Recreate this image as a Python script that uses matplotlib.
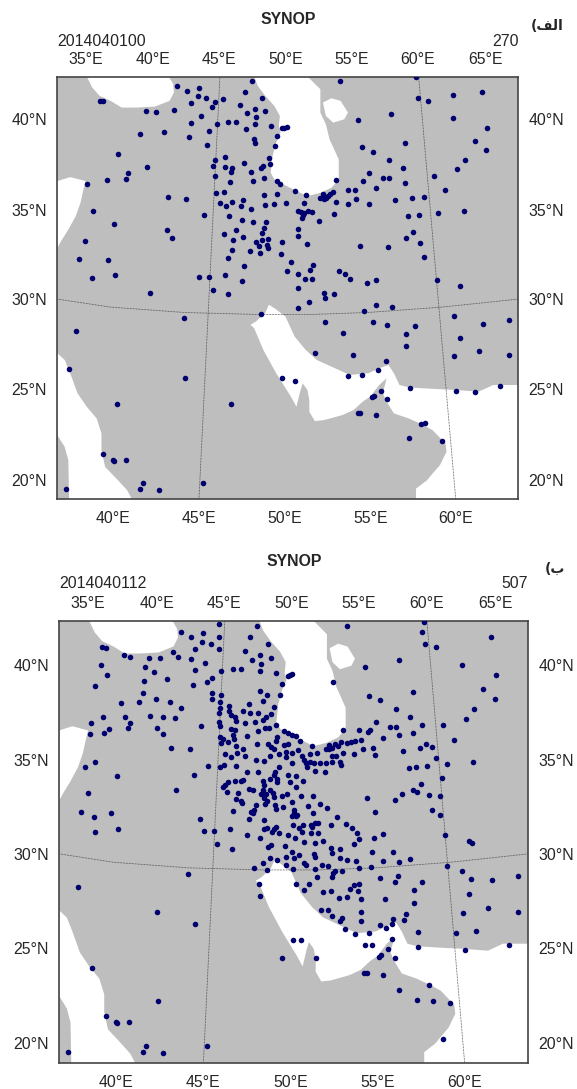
"""Two SYNOP station maps (2014040100 and 2014040112)."""
import matplotlib

matplotlib.use("Agg")
import matplotlib.pyplot as plt
import numpy as np
from matplotlib.patches import Polygon

plt.rcParams["font.family"] = ["Liberation Sans", "DejaVu Sans"]
plt.rcParams["font.size"] = 11.4

W, H = 577, 1089
LAND = "#bebebe"
DOT = "#00006e"
TEXT = "#262626"

# map units: both panels share the frame of the upper one
FRAME_A = (155, 1408, 232, 1497)
FRAME_B = (162, 1438, 1863, 3190)

# stations, upper and lower half of each panel
A_NORTH = [
    (684,244),(923,246),(1129,234),(480,260),(507,276),(540,265),(665,278),(1309,277),(1231,287),(537,291),
    (560,295),(605,300),(712,297),(583,309),(518,311),(1135,297),(1162,305),(270,304),(279,306),(652,316),
    (575,324),(473,332),(397,336),(424,337),(692,329),(720,335),(671,342),(1062,343),(545,351),(696,354),
    (1231,357),(972,361),(518,370),(589,373),(619,369),(641,368),(692,373),(735,380),(668,388),(765,386),
    (778,384),(772,385),(1322,385),(566,395),(444,397),(381,403),(752,411),(514,414),(690,420),(691,430),
    (1289,424),(563,436),(746,441),(1099,432),(983,444),(1012,457),(1321,453),(321,465),(610,473),(584,481),
    (730,477),(1057,483),(1264,482),(662,491),(578,499),(610,503),(733,495),(714,500),(708,505),(398,503),
    (630,507),(626,517),(1094,505),(1242,510),(681,518),(347,522),(1003,521),(584,530),(1180,529),(1039,535),
    (1056,535),(341,538),(290,541),(686,545),(718,537),(913,543),(985,544),(625,548),(752,545),(760,553),
    (236,554),(1101,551),(1020,566),(1210,571),(946,572),(964,571),(801,575),(586,582),(607,579),(717,588),
    (752,585),(831,588),(877,585),(905,577),(897,585),(890,590),(885,597),(868,597),(880,600),(455,593),
    (506,598),(967,599),(1073,602),(1118,595),(1151,594),(598,611),(614,620),(630,608),(653,618),(661,601),
    (719,615),(743,613),(776,610),(826,611),(913,608),(944,613),(1001,613),(681,629),(251,635),(1261,633),
    (553,646),(622,648),(810,634),(818,638),(826,640),(837,633),(848,636),(822,647),(819,655),(908,644),
    (1191,640),(1109,649),(1138,647),(656,661),(687,667),(722,666),(867,664),(309,673),(716,684),(641,690),
    (808,689),(453,692),(712,700),(1121,697),(609,703),(660,711),(809,709),(468,715),(1102,716),(633,721),
    (711,722),(728,717),(694,726),(231,724),(765,727),(833,733),(1142,729),(703,739),(729,745),(725,735),
    (978,739),(1053,742),(629,750),(680,755),(705,760),(762,762),(214,778),(294,781),(619,775),(1151,773),
    (789,786),(851,796),(663,799),
]
A_SOUTH = [
    (250,25),(311,17),(541,21),(568,23),(612,15),(657,33),(779,3),(808,12),(827,29),(848,28),
    (843,2),(922,3),(937,13),(950,29),(997,41),(1022,30),(1186,32),(1250,49),(808,54),(406,69),
    (578,60),(618,73),(881,69),(883,84),(907,73),(838,97),(1020,107),(1064,111),(808,116),(988,124),
    (710,134),(500,145),(1232,138),(883,156),(1013,156),(1051,166),(1313,164),(1382,151),(205,182),(931,190),
    (1126,168),(1103,191),(1249,203),(1103,229),(856,249),(960,255),(1234,258),(1302,242),(1382,255),(1048,274),
    (186,296),(1027,300),(946,317),(982,315),(503,323),(765,323),(800,334),(1113,355),(1034,362),(1240,362),
    (1291,367),(1357,348),(1016,377),(1009,382),(1051,387),(318,401),(627,401),(972,428),(978,428),(1022,435),
    (1143,463),(1155,460),(1112,505),(1201,514),(279,552),(306,569),(310,572),(342,570),(387,638),(551,638),
    (380,656),(180,655),(431,659),
]
B_NORTH = [
    (596,237),(700,243),(944,244),(1154,232),(493,260),(520,276),(553,265),(596,276),(681,277),(1148,260),
    (1337,277),(550,291),(574,296),(596,311),(531,312),(729,298),(1158,297),(1187,306),(278,305),(288,309),
    (667,319),(472,321),(485,335),(338,330),(355,337),(407,340),(435,340),(708,331),(737,338),(519,342),
    (686,345),(1085,346),(558,354),(712,357),(276,361),(394,367),(1257,361),(993,366),(531,374),(603,378),
    (634,373),(657,373),(707,377),(421,382),(752,385),(783,393),(790,390),(796,388),(1350,390),(293,391),
    (578,400),(565,412),(456,402),(392,409),(906,410),(769,417),(527,421),(258,423),(1316,431),(707,437),
    (577,443),(602,449),(390,443),(763,449),(1123,440),(727,450),(1004,452),(425,461),(578,461),(600,471),
    (378,470),(464,471),(330,474),(717,468),(1035,465),(1348,461),(677,478),(624,482),(598,490),(745,486),
    (493,489),(1079,493),(1291,491),(662,497),(597,505),(625,498),(681,505),(702,505),(1117,516),(630,510),
    (737,507),(725,515),(715,524),(281,515),(410,513),(445,515),(478,519),(342,515),(597,530),(641,517),
    (1269,521),(644,528),(695,530),(667,535),(1025,532),(355,534),(248,535),(1148,541),(598,542),(548,544),
    (1205,541),(722,550),(733,549),(751,540),(427,549),(350,550),(298,553),(283,565),(245,568),(1062,546),
    (1078,546),(703,557),(628,552),(640,555),(978,554),(1008,555),(1001,562),(935,555),(772,558),(783,563),
    (795,570),(445,566),(634,570),(1086,570),(1125,563),(672,574),(753,577),(805,572),(598,577),(608,582),
    (636,582),(1042,579),(984,585),(966,588),(955,590),(946,595),(1236,585),(752,587),(818,589),(928,590),
    (912,598),(895,600),(895,612),(905,610),(921,604),(850,603),(1161,596),(1142,610),(1175,607),(467,608),
    (518,613),(601,594),(620,592),(643,602),(701,597),(730,597),(738,605),(785,596),(773,600),(745,612),
    (663,612),(812,615),(987,613),(1015,610),(887,612),(1097,618),(964,628),(1022,629),(933,623),(613,627),
    (628,635),(645,625),(668,634),(735,632),(760,627),(778,622),(795,625),(779,637),(822,632),(845,628),
    (862,625),(905,632),(915,632),(1186,640),(1288,651),(567,663),(598,667),(610,661),(697,645),(719,648),
    (795,653),(827,645),(833,655),(845,650),(855,654),(870,655),(888,655),(903,652),(925,650),(928,660),
    (232,665),(258,652),(1216,657),(644,664),(760,665),(1113,668),(1133,667),(1163,664),(750,680),(673,680),
    (703,680),(835,665),(858,678),(886,682),(745,690),(785,690),(806,692),(529,691),(318,692),(1203,699),
    (755,702),(734,703),(716,708),(663,706),(640,707),(655,708),(612,720),(622,712),(607,727),(790,712),
    (826,708),(754,712),(1145,716),(718,720),(807,726),(678,731),(690,735),(717,735),(735,735),(617,740),
    (480,736),(1125,736),(1136,742),(239,745),(1095,748),(1167,750),(1197,753),(647,744),(711,747),(725,748),
    (743,745),(782,747),(768,753),(820,754),(851,754),(746,757),(720,760),(644,762),(655,768),(726,768),
    (660,775),(1000,760),(1076,764),(870,778),(795,772),(838,783),(889,788),(748,780),(770,785),(722,778),
    (697,780),(752,793),(634,798),(691,795),(684,800),(222,802),(303,805),(1175,795),(1021,801),(853,803),
    (800,795),(800,805),(810,810),(257,816),(678,823),(718,824),(918,815),(544,821),(1197,810),(689,805),
    (796,812),(806,812),
]
B_SOUTH = [
    (258,36),(321,28),(555,32),(583,34),(627,26),(673,45),(720,26),(727,24),(745,28),(752,20),
    (741,36),(759,40),(797,14),(826,16),(815,25),(821,36),(848,14),(858,8),(866,8),(850,20),
    (900,15),(943,12),(957,23),(971,40),(846,40),(866,40),(785,46),(803,55),(709,54),(977,58),
    (1018,54),(1044,41),(1212,44),(1277,62),(1284,70),(592,73),(632,87),(738,75),(731,80),(775,79),
    (827,66),(857,70),(880,63),(964,73),(902,84),(927,86),(1069,97),(1013,95),(795,97),(903,99),
    (780,110),(800,115),(815,105),(854,102),(857,110),(735,113),(755,120),(925,115),(945,120),(969,124),
    (1043,122),(1087,126),(1117,116),(716,128),(780,136),(827,130),(833,134),(878,136),(894,138),(693,145),
    (727,150),(798,148),(857,146),(913,153),(931,152),(978,145),(1010,140),(1217,137),(512,161),(1258,154),
    (908,160),(903,172),(862,172),(1035,173),(1083,168),(1074,185),(1283,177),(1340,181),(1411,169),(1150,186),
    (212,200),(704,193),(805,191),(841,192),(965,194),(978,192),(952,208),(827,210),(880,216),(901,212),
    (976,213),(1127,210),(1277,222),(708,229),(923,234),(944,232),(983,238),(1047,237),(1127,250),(1329,263),
    (875,271),(893,271),(982,276),(1411,277),(427,277),(1260,280),(1105,282),(905,289),(931,295),(926,303),
    (982,302),(1070,297),(1101,301),(1068,312),(1035,314),(1050,324),(532,311),(938,326),(1295,332),(1138,335),
    (1241,338),(966,341),(1004,339),(1067,356),(797,359),(819,359),(993,375),(1013,376),(1137,381),(1055,388),
    (1386,374),(1267,389),(1036,405),(1031,410),(1074,415),(767,414),(861,415),(252,444),(992,458),(1000,458),
    (1044,465),(1167,495),(1087,510),(431,544),(1135,539),(1180,542),(1226,548),(289,588),(315,605),(319,609),
    (351,606),(397,678),(565,678),(1206,657),(390,697),(185,695),(443,700),
]

# water bodies, everything else in the frame is land
BLACK_SEA = [(235,232),(250,265),(270,290),(300,305),(330,325),(370,325),(420,322),(460,305),(472,280),(470,255),(458,232)]
CASPIAN = [(690,232),(700,260),(720,290),(745,320),(760,350),(757,380),(762,400),(750,430),(740,470),(735,520),(745,540),
           (770,555),(800,572),(835,590),(870,580),(900,565),(920,540),(920,480),(895,420),(885,375),(870,340),(870,270),(835,232)]
KARA_BOGAZ = [(877,310),(900,297),(925,305),(945,340),(935,360),(905,370),(885,350)]
MEDITERRANEAN = [(155,545),(190,533),(232,545),(225,575),(218,610),(205,650),(185,690),(165,725),(155,745)]
RED_SEA = [(155,1060),(175,1080),(190,1120),(210,1180),(235,1220),(262,1255),(275,1300),(275,1350),(285,1400),(320,1440),
           (345,1470),(358,1497),(187,1497),(185,1380),(175,1340),(155,1305)]
GULF = [(730,915),(745,925),(775,950),(800,1010),(830,1050),(860,1080),(900,1100),(950,1125),(1000,1120),(1030,1105),
        (1055,1095),(1070,1120),(1085,1155),(1110,1162),(1150,1165),(1240,1170),(1300,1175),(1340,1155),(1408,1155),(1408,1497),
        (1130,1497),(1130,1465),(1160,1440),(1175,1420),(1195,1395),(1213,1355),(1210,1330),(1175,1290),(1150,1275),(1110,1255),
        (1070,1240),(1050,1205),(1040,1180),(1050,1135),(1030,1155),(1005,1190),(985,1205),(960,1230),(930,1245),(880,1260),
        (855,1263),(840,1235),(840,1200),(835,1170),(822,1150),(815,1175),(805,1220),(790,1190),(770,1155),(750,1120),
        (715,1050),(690,985),(680,975),(695,965),(720,940)]
WATER = [BLACK_SEA, CASPIAN, KARA_BOGAZ, MEDITERRANEAN, RED_SEA, GULF]

# graticule lines
MERIDIAN_45 = [(597,232),(540,1497)]
MERIDIAN_60 = [(1137,232),(1238,1497)]
PARALLEL_30 = [(155,898),(300,922),(500,938),(700,944),(845,944),(1000,938),(1200,922),(1408,898)]

TOP_LON = ["35°E", "40°E", "45°E", "50°E", "55°E", "60°E", "65°E"]
TOP_POS = [232, 415, 595, 775, 955, 1135, 1320]
BOTTOM_LON = ["40°E", "45°E", "50°E", "55°E", "60°E"]
BOTTOM_POS = [306, 540, 773, 1006, 1238]
LAT_LABELS = ["40°N", "35°N", "30°N", "25°N", "20°N"]
LAT_POS = [358, 630, 898, 1168, 1440]

# visual order, matplotlib does no Arabic shaping of its own
LABEL_ALEF = "(\ufed2\ufedf\ufe8d"
LABEL_BE = "(\ufe8f"


def stations(north, south, north_y0, south_y0, frame):
    pts = np.array(north + south, dtype=float)
    pts[:, 1] += np.r_[np.full(len(north), north_y0), np.full(len(south), south_y0)]
    x0, x1, y0, y1 = frame
    ax0, ax1, ay0, ay1 = FRAME_A
    mx = ax0 + (pts[:, 0] - x0) / (x1 - x0) * (ax1 - ax0)
    my = ay0 + (pts[:, 1] - y0) / (y1 - y0) * (ay1 - ay0)
    return mx, my


def put(fig, x, y, s, **kw):
    fig.text(x / W, 1 - y / H, s, color=TEXT, va="center", **kw)


def draw_map(fig, box, mx, my):
    l, r, t, b = box
    ax = fig.add_axes([l / W, 1 - b / H, (r - l) / W, (b - t) / H])
    ax.set_facecolor(LAND)
    for poly in WATER:
        ax.add_patch(Polygon(poly, closed=True, fc="white", ec="none", zorder=1))
    for line in (MERIDIAN_45, MERIDIAN_60, PARALLEL_30):
        xs, ys = zip(*line)
        ax.plot(xs, ys, color="#3a3a3a", lw=0.55, ls=(0, (1, 1)), zorder=2)
    ax.plot(mx, my, "o", color=DOT, ms=4.0, mew=0, zorder=3)
    ax.set_xlim(FRAME_A[0], FRAME_A[1])
    ax.set_ylim(FRAME_A[3], FRAME_A[2])
    ax.set_xticks(BOTTOM_POS, BOTTOM_LON)
    ax.set_yticks(LAT_POS, LAT_LABELS)
    ax.tick_params(length=0, labelcolor=TEXT, pad=7.5, left=False, right=False,
                   labelleft=True, labelright=True, bottom=False)
    ax.tick_params(axis="x", pad=8.5)
    top = ax.secondary_xaxis("top")
    top.set_xticks(TOP_POS, TOP_LON)
    top.tick_params(length=0, labelcolor=TEXT, pad=7)
    top.spines["top"].set_visible(False)
    for sp in ax.spines.values():
        sp.set_color("#444444")
        sp.set_linewidth(1.2)
    return ax


fig = plt.figure(figsize=(W / 100, H / 100), dpi=100, facecolor="white")

mx, my = stations(A_NORTH, A_SOUTH, 0, 810, FRAME_A)
draw_map(fig, (57.3, 518.3, 76.5, 499.3), mx, my)
put(fig, 288, 19, "SYNOP", ha="center", fontweight="bold")
put(fig, 57.3, 42, "2014040100", ha="left")
put(fig, 518.3, 42, "270", ha="right")
put(fig, 564, 26, LABEL_ALEF, ha="right", fontweight="bold", family=["DejaVu Sans"], fontsize=10)

mx, my = stations(B_NORTH, B_SOUTH, 1635, 2460, FRAME_B)
draw_map(fig, (59.3, 528.3, 621, 1063.3), mx, my)
put(fig, 294.5, 561, "SYNOP", ha="center", fontweight="bold")
put(fig, 59.3, 584, "2014040112", ha="left")
put(fig, 528.3, 584, "507", ha="right")
put(fig, 565, 569, LABEL_BE, ha="right", fontweight="bold", family=["DejaVu Sans"], fontsize=10)

fig.savefig("out.png", dpi=100)
